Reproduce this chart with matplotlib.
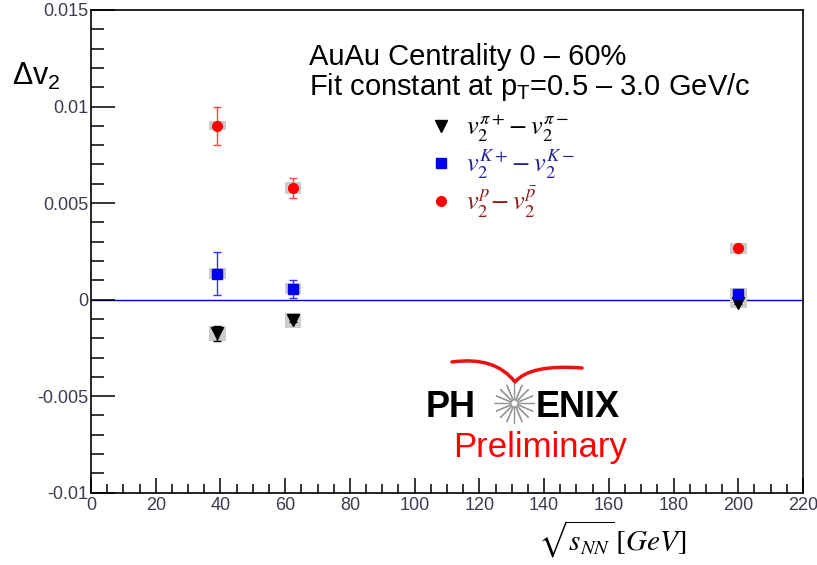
import matplotlib
matplotlib.use('Agg')
import matplotlib.pyplot as plt
from matplotlib.path import Path
from matplotlib.patches import PathPatch
from matplotlib.ticker import MultipleLocator, FixedLocator, FixedFormatter

# collision energies sqrt(s_NN) in GeV
energy = [39.0, 62.4, 200.0]

# v2(particle) - v2(antiparticle), statistical and systematic errors
dv2_pion = [-0.00175, -0.00108, -0.00015]
stat_pion = [0.0004, 0.0001, 0.0001]
sys_pion = [0.0004, 0.0004, 0.0003]

dv2_kaon = [0.00135, 0.00057, 0.00028]
stat_kaon = [0.0011, 0.00047, 0.0001]
sys_kaon = [0.0003, 0.0003, 0.0003]

dv2_proton = [0.0090, 0.00578, 0.00265]
stat_proton = [0.0010, 0.0005, 0.0001]
sys_proton = [0.00023, 0.0003, 0.0003]

xticks = [0, 20, 40, 60, 80, 100, 120, 140, 160, 180, 200, 220]
yticks = [-0.01, -0.005, 0, 0.005, 0.01, 0.015]
ytick_labels = ['-0.01', '-0.005', '0', '0.005', '0.01', '0.015']

labels = [r'$v_2^{\pi+}\!-v_2^{\pi-}$',
          r'$v_2^{K+}\!-v_2^{K-}$',
          r'$v_2^{p}\!-v_2^{\bar{p}}$']

plt.rcParams['font.family'] = ['Liberation Sans', 'DejaVu Sans']
plt.rcParams['mathtext.fontset'] = 'stix'
plt.rcParams['mathtext.rm'] = 'Liberation Sans'
plt.rcParams['mathtext.it'] = 'Liberation Sans:italic'
plt.rcParams['mathtext.bf'] = 'Liberation Sans:bold'
plt.rcParams['axes.unicode_minus'] = False

W, H = 817, 565
fig = plt.figure(figsize=(W / 100, H / 100), dpi=100)
ax = fig.add_axes([91 / W, 1 - 492.7 / H, (803 - 91) / W, (492.7 - 10) / H])

ax.set_xlim(0, 220)
ax.set_ylim(-0.01, 0.015)

# zero line
ax.axhline(0, color='#0000cc', lw=1, zorder=1)

box_w = 5.2
series = [
    (dv2_pion, stat_pion, sys_pion, 'v', 'black', 'black', 8),
    (dv2_kaon, stat_kaon, sys_kaon, 's', '#0000ee', '#3333ff', 6.5),
    (dv2_proton, stat_proton, sys_proton, 'o', '#ff0000', '#ff4444', 7),
]
handles = []
for vals, stat, syst, mk, col, ecol, ms in series:
    # grey systematic boxes
    ax.bar(energy, [2 * s for s in syst], bottom=[v - s for v, s in zip(vals, syst)],
           width=box_w, color='#cccccc', edgecolor='none', zorder=2)
    ax.errorbar(energy, vals, yerr=stat, fmt='none', ecolor=ecol, elinewidth=1,
                capsize=3, capthick=1, zorder=3)
    h, = ax.plot(energy, vals, ls='none', marker=mk, color=col, ms=ms, zorder=4)
    handles.append(h)

# axis ticks, ROOT style
ax.xaxis.set_major_locator(FixedLocator(xticks))
ax.xaxis.set_minor_locator(MultipleLocator(5))
ax.yaxis.set_major_locator(FixedLocator(yticks))
ax.yaxis.set_major_formatter(FixedFormatter(ytick_labels))
ax.yaxis.set_minor_locator(MultipleLocator(0.001))
ax.tick_params(axis='both', which='both', direction='in', top=False, right=False,
               labelsize=13, labelcolor='#3c3c50', width=1.1)
ax.tick_params(axis='y', which='major', length=17, pad=2)
ax.tick_params(axis='y', which='minor', length=9.5)
ax.tick_params(axis='x', which='major', length=11, pad=3)
ax.tick_params(axis='x', which='minor', length=6.5)
for sp in ax.spines.values():
    sp.set_linewidth(1.2)

leg = ax.legend(handles, labels, loc='upper left',
                bbox_to_anchor=(428 / W, 1 - 113 / H), bbox_transform=fig.transFigure,
                frameon=False, fontsize=19, handlelength=1.0, handletextpad=0.45,
                labelspacing=0.13, borderpad=0, borderaxespad=0)
for t, c in zip(leg.get_texts(), ['black', '#22229a', '#8b1a1a']):
    t.set_color(c)

# overlay in pixel coordinates for the annotations and logo
ov = fig.add_axes([0, 0, 1, 1], zorder=5)
ov.set_xlim(0, W)
ov.set_ylim(H, 0)
ov.axis('off')
ov.patch.set_visible(False)

ov.text(309, 65, 'AuAu Centrality 0 – 60%', fontsize=21, va='baseline')
ov.text(309, 95, 'Fit constant at p$_\\mathrm{T}$=0.5 – 3.0 GeV/c', fontsize=21,
        va='baseline', math_fontfamily='custom')
ov.text(12, 85, 'Δv$_\\mathrm{2}$', fontsize=22, va='baseline', math_fontfamily='custom')
ov.text(538, 550, r'$\sqrt{s_{NN}}\,[GeV]$', fontsize=21, va='baseline')

# PHENIX logo
ov.text(476, 417, 'PH', fontsize=26, fontweight='bold', ha='right', va='baseline')
ov.text(536, 417, 'ENIX', fontsize=26, fontweight='bold', ha='left', va='baseline')
ov.plot([514], [403], marker=(16, 2, 0), ms=29, color='#999999', mew=0.9)
ov.plot([514], [403], marker='o', ms=5, color='white', mec='#999999', mew=0.8)
wing = Path([(452, 362), (495, 356), (515, 382), (530, 364), (582, 368)],
            [Path.MOVETO, Path.CURVE3, Path.CURVE3, Path.CURVE3, Path.CURVE3])
ov.add_patch(PathPatch(wing, fill=False, color='#ee1111', lw=2.5, capstyle='round'))
ov.text(540, 457, 'Preliminary', fontsize=25, color='#ff0000', ha='center', va='baseline')

fig.savefig('out.png', dpi=100)
